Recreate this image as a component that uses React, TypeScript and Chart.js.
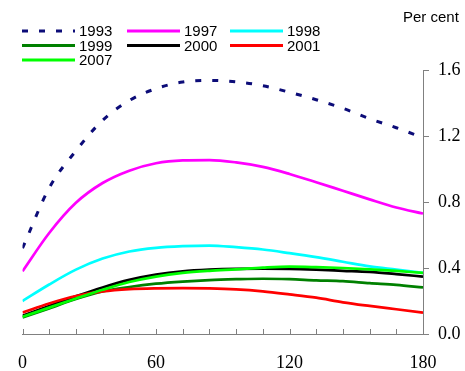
import React, { useEffect, useRef } from "react";
import { Chart, registerables } from "chart.js";

Chart.register(...registerables);

const months = [0, 12, 24, 36, 48, 60, 72, 84, 96, 108, 120, 132, 144, 156, 168, 180];
const yTicks = [0, 0.4, 0.8, 1.2, 1.6];
const xLabelValues = [0, 60, 120, 180];

const s1993 = [0.52, 0.885, 1.11, 1.295, 1.415, 1.487, 1.527, 1.537, 1.528, 1.505, 1.465, 1.42, 1.368, 1.305, 1.25, 1.19];
const s1997 = [0.38, 0.612, 0.795, 0.915, 0.99, 1.035, 1.052, 1.054, 1.04, 1.013, 0.97, 0.92, 0.868, 0.816, 0.767, 0.73];
const s1998 = [0.2, 0.3, 0.39, 0.457, 0.5, 0.522, 0.532, 0.536, 0.526, 0.512, 0.49, 0.466, 0.438, 0.41, 0.39, 0.37];
const s1999 = [0.1, 0.155, 0.212, 0.258, 0.285, 0.305, 0.318, 0.327, 0.332, 0.335, 0.332, 0.325, 0.32, 0.308, 0.298, 0.282];
const s2000 = [0.11, 0.17, 0.228, 0.282, 0.328, 0.36, 0.38, 0.39, 0.395, 0.396, 0.395, 0.39, 0.383, 0.376, 0.363, 0.348];
const s2001 = [0.13, 0.185, 0.23, 0.258, 0.272, 0.277, 0.278, 0.276, 0.27, 0.258, 0.24, 0.22, 0.192, 0.17, 0.15, 0.13];
const s2007 = [0.105, 0.16, 0.215, 0.268, 0.315, 0.348, 0.37, 0.383, 0.392, 0.402, 0.408, 0.405, 0.4, 0.392, 0.382, 0.37];

const seriesNames = ["1993", "1997", "1998", "1999", "2000", "2001", "2007"];
const seriesValues = [s1993, s1997, s1998, s1999, s2000, s2001, s2007];
const seriesColors = ["#0c0c78", "#ff00ff", "#00ffff", "#008000", "#000000", "#ff0000", "#00ff00"];
const seriesDash: number[][] = [[6, 11], [], [], [], [], [], []];

const SANS = "'Liberation Sans', Arial, sans-serif";
const SERIF = "'Liberation Serif', 'Times New Roman', serif";

const overlayPlugin = {
  id: "overlay",
  afterDraw(chart: any) {
    const ctx = chart.ctx;
    const x = chart.scales.x;
    const area = chart.chartArea;
    ctx.save();
    // inward x ticks
    ctx.strokeStyle = "#808080";
    ctx.lineWidth = 1;
    x.ticks.forEach((t: any) => {
      const px = Math.round(x.getPixelForValue(t.value)) + 0.5;
      ctx.beginPath();
      ctx.moveTo(px, area.bottom);
      ctx.lineTo(px, area.bottom - 5);
      ctx.stroke();
    });
    // "Per cent"
    ctx.fillStyle = "#000";
    ctx.font = `15px ${SANS}`;
    ctx.textBaseline = "middle";
    ctx.textAlign = "left";
    ctx.fillText("Per cent", 403, 18);
    // legend
    const colX = [22, 127, 230];
    const rowY = [31, 45.5, 60];
    chart.data.datasets.forEach((ds: any, i: number) => {
      const cx = colX[i % 3];
      const cy = rowY[Math.floor(i / 3)];
      ctx.beginPath();
      ctx.strokeStyle = ds.borderColor;
      ctx.lineWidth = 3;
      ctx.setLineDash(ds.borderDash || []);
      ctx.moveTo(cx, cy);
      ctx.lineTo(cx + 53, cy);
      ctx.stroke();
      ctx.setLineDash([]);
      ctx.fillStyle = "#000";
      ctx.fillText(ds.label, cx + 57, cy + 1);
    });
    ctx.restore();
  },
};

export default function App() {
  const ref = useRef<HTMLCanvasElement | null>(null);
  useEffect(() => {
    if (!ref.current) return;
    const chart = new Chart(ref.current, {
      type: "line",
      data: {
        datasets: seriesNames.map((name, i) => ({
          label: name,
          data: months.map((m, j) => ({ x: m, y: seriesValues[i][j] })),
          borderColor: seriesColors[i],
          backgroundColor: seriesColors[i],
          borderWidth: i === 0 ? 3 : 2.7,
          borderDash: seriesDash[i],
          pointRadius: 0,
          cubicInterpolationMode: "monotone" as const,
          order: seriesNames.length - i,
        })),
      },
      options: {
        animation: false,
        responsive: false,
        maintainAspectRatio: false,
        layout: { padding: { top: 70, left: 16, right: 0, bottom: 0 } },
        plugins: { legend: { display: false }, tooltip: { enabled: false } },
        scales: {
          x: {
            type: "linear",
            min: 0,
            max: 180,
            afterFit: (s: any) => { s.height = 37; },
            afterBuildTicks: (s: any) => {
              s.ticks = months.map((v) => ({ value: v }));
            },
            ticks: {
              autoSkip: false,
              maxRotation: 0,
              padding: 18,
              color: "#000",
              font: { family: SERIF, size: 18 },
              callback: (v: any) => (xLabelValues.includes(Number(v)) ? String(v) : ""),
            },
            grid: { display: true, drawOnChartArea: false, drawTicks: false, color: "#808080" },
            border: { display: true, color: "#808080", width: 1 },
          },
          y: {
            position: "right",
            min: 0,
            max: 1.6,
            afterFit: (s: any) => { s.width = 42; },
            afterBuildTicks: (s: any) => {
              s.ticks = yTicks.map((v) => ({ value: v }));
            },
            ticks: {
              padding: 9,
              color: "#000",
              font: { family: SERIF, size: 18 },
              callback: (v: any) => Number(v).toFixed(1),
            },
            grid: { drawOnChartArea: false, drawTicks: true, tickLength: 6, color: "#808080" },
            border: { display: true, color: "#808080", width: 1 },
          },
        },
      },
      plugins: [overlayPlugin],
    });
    return () => chart.destroy();
  }, []);
  return (
    <div style={{ position: "fixed", left: 0, top: 0, width: 465, height: 371, background: "#fff" }}>
      <canvas ref={ref} width={465} height={371} style={{ width: 465, height: 371 }} />
    </div>
  );
}
